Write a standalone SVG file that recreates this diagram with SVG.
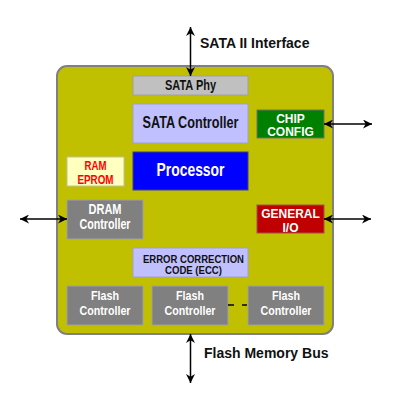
<svg xmlns="http://www.w3.org/2000/svg" width="400" height="400" viewBox="0 0 400 400">
<style>
text{font-family:"Liberation Sans",Arial,sans-serif;font-weight:bold;text-anchor:middle}
.lbl{text-anchor:start;font-size:14px;fill:#111}
.w{fill:#fff}
.k{fill:#111}
.gray{fill:#808080;stroke:#a0a0a0;stroke-width:1}
.lav{fill:#c0c0ff;stroke:#a0a0c8;stroke-width:1}
.conn{stroke:#000;stroke-width:1.5;fill:none}
</style>
<defs>
<marker id="ah" markerUnits="userSpaceOnUse" viewBox="0 0 10 10" refX="10" refY="5" markerWidth="10" markerHeight="9" orient="auto-start-reverse">
<path d="M0,0 L10,5 L0,10 L3,5 Z" fill="#000"/>
</marker>
</defs>
<g id="chip">
<rect x="57" y="66" width="276" height="268" rx="10" fill="#c0c000" stroke="#808080" stroke-width="2"/>
</g>
<g id="sata-phy">
<rect x="133" y="76" width="115" height="19" fill="#c0c0c0" stroke="#a0a0a0"/>
<text x="190.5" y="90" font-size="14" class="k" textLength="51" lengthAdjust="spacingAndGlyphs">SATA Phy</text>
</g>
<g id="sata-controller">
<rect x="133" y="104" width="115" height="39" class="lav"/>
<text x="190.5" y="128" font-size="16" class="k" textLength="96" lengthAdjust="spacingAndGlyphs">SATA Controller</text>
</g>
<g id="chip-config">
<rect x="257" y="110" width="67" height="28" fill="#008000" stroke="#707070"/>
<text x="290.5" y="123" font-size="12" class="w">CHIP</text>
<text x="290.5" y="136" font-size="12" class="w">CONFIG</text>
</g>
<g id="processor">
<rect x="133" y="152" width="115" height="38" fill="#0000ff" stroke="#404080"/>
<text x="190.5" y="176" font-size="19" class="w" textLength="68" lengthAdjust="spacingAndGlyphs">Processor</text>
</g>
<g id="ram-eprom">
<rect x="67" y="157" width="57" height="29" fill="#ffffc0" stroke="#c0c0a0"/>
<text x="95.5" y="170" font-size="12" fill="#ff0000" textLength="22" lengthAdjust="spacingAndGlyphs">RAM</text>
<text x="95.5" y="184" font-size="12" fill="#ff0000" textLength="36" lengthAdjust="spacingAndGlyphs">EPROM</text>
</g>
<g id="dram-controller">
<rect x="67" y="200" width="76" height="39" class="gray"/>
<text x="105" y="214" font-size="14" class="w" textLength="33" lengthAdjust="spacingAndGlyphs">DRAM</text>
<text x="105" y="229" font-size="14" class="w" textLength="51" lengthAdjust="spacingAndGlyphs">Controller</text>
</g>
<g id="general-io">
<rect x="257" y="205" width="67" height="28" fill="#c00000" stroke="#a05050"/>
<text x="290.5" y="218" font-size="12" class="w">GENERAL</text>
<text x="290.5" y="232" font-size="12" class="w">I/O</text>
</g>
<g id="ecc">
<rect x="133" y="248" width="115" height="29" class="lav"/>
<text x="193.5" y="263" font-size="10" class="k" textLength="101" lengthAdjust="spacingAndGlyphs">ERROR CORRECTION</text>
<text x="193.5" y="274" font-size="10" class="k" textLength="57" lengthAdjust="spacingAndGlyphs">CODE (ECC)</text>
</g>
<g id="flash-1">
<rect x="67" y="286" width="76" height="39" class="gray"/>
<text x="105" y="300" font-size="13" class="w" textLength="28" lengthAdjust="spacingAndGlyphs">Flash</text>
<text x="105" y="314.5" font-size="13" class="w" textLength="51" lengthAdjust="spacingAndGlyphs">Controller</text>
</g>
<g id="flash-2">
<rect x="152" y="286" width="76" height="39" class="gray"/>
<text x="190" y="300" font-size="13" class="w" textLength="28" lengthAdjust="spacingAndGlyphs">Flash</text>
<text x="190" y="314.5" font-size="13" class="w" textLength="51" lengthAdjust="spacingAndGlyphs">Controller</text>
</g>
<g id="flash-3">
<rect x="248" y="286" width="76" height="39" class="gray"/>
<text x="286" y="300" font-size="13" class="w" textLength="28" lengthAdjust="spacingAndGlyphs">Flash</text>
<text x="286" y="314.5" font-size="13" class="w" textLength="51" lengthAdjust="spacingAndGlyphs">Controller</text>
</g>
<g id="connectors">
<line x1="190.5" y1="27" x2="190.5" y2="76" class="conn" marker-start="url(#ah)" marker-end="url(#ah)"/>
<line x1="324" y1="124" x2="372" y2="124" class="conn" marker-start="url(#ah)" marker-end="url(#ah)"/>
<line x1="20" y1="219" x2="67" y2="219" class="conn" marker-start="url(#ah)" marker-end="url(#ah)"/>
<line x1="324" y1="219" x2="371" y2="219" class="conn" marker-start="url(#ah)" marker-end="url(#ah)"/>
<line x1="190.5" y1="334" x2="190.5" y2="383" class="conn" marker-start="url(#ah)" marker-end="url(#ah)"/>
<line x1="228" y1="305" x2="234" y2="305" class="conn"/>
<line x1="242" y1="305" x2="247" y2="305" class="conn"/>
</g>
<g id="labels">
<text x="200" y="48" class="lbl">SATA II Interface</text>
<text x="204" y="358" class="lbl">Flash Memory Bus</text>
</g>
</svg>
